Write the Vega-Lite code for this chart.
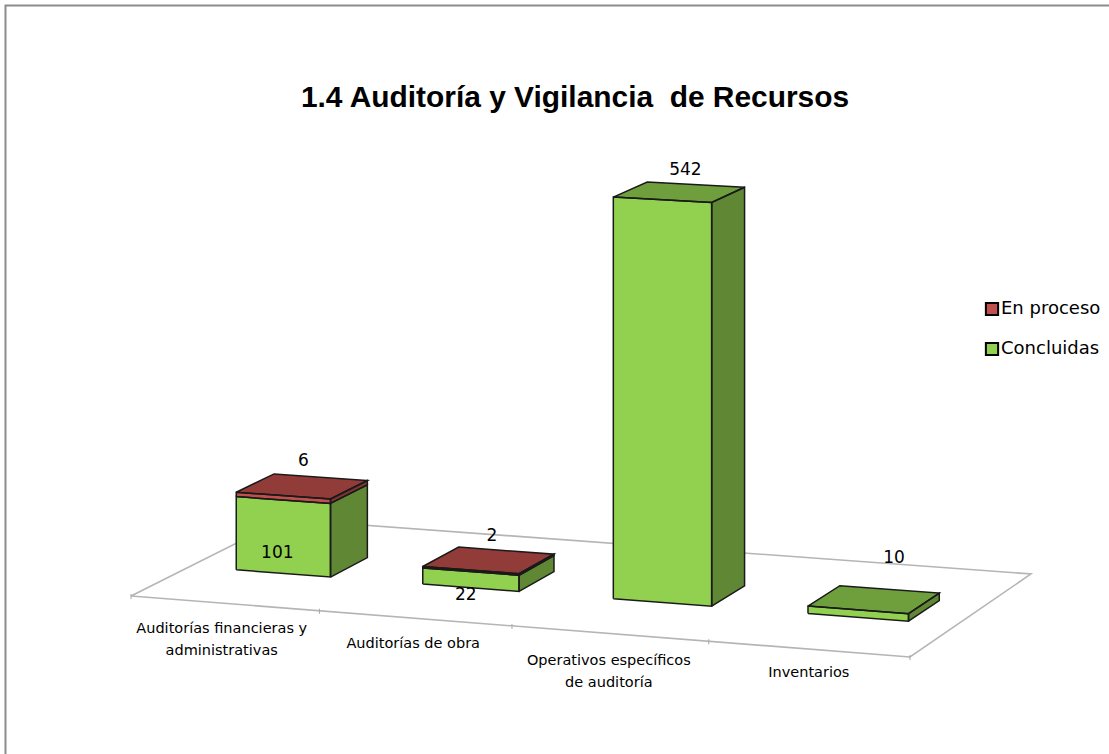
{
"$schema":"https://vega.github.io/schema/vega-lite/v6.json",
"width":1109,"height":754,"padding":0,"autosize":{"type":"none"},
"background":"white",
"config":{"view":{"stroke":null},"font":"DejaVu Sans"},
"title":{"text":"1.4 Auditoría y Vigilancia \u00a0de Recursos","anchor":"middle","frame":"group","dx":20.5,"offset":-137,"baseline":"alphabetic","fontSize":29.9,"fontWeight":"bold","color":"#000000","font":"Liberation Sans"},
"datasets":{
"bars":[
{"category":"Auditorías financieras y administrativas","series":"Concluidas","value":101},
{"category":"Auditorías financieras y administrativas","series":"En proceso","value":6},
{"category":"Auditorías de obra","series":"Concluidas","value":22},
{"category":"Auditorías de obra","series":"En proceso","value":2},
{"category":"Operativos específicos de auditoría","series":"Concluidas","value":542},
{"category":"Inventarios","series":"Concluidas","value":10}
],
"floor":[{"n":0,"s":0,"t":0},{"n":1,"s":1,"t":0},{"n":2,"s":1,"t":1},{"n":3,"s":0,"t":1},{"n":4,"s":0,"t":0}],
"ticks":[{"s":0},{"s":0.25},{"s":0.5},{"s":0.75},{"s":1}],
"frame":[{"n":0,"px":5.5,"py":754},{"n":1,"px":5.5,"py":5.5},{"n":2,"px":1109,"py":5.5}]
},
"layer":[
{"data":{"name":"frame"},"mark":{"type":"line","stroke":"#8c8c8c","strokeWidth":2},
 "encoding":{"x":{"field":"px","type":"quantitative","scale":{"domain":[0,1109],"nice":false,"zero":false},"axis":null},"y":{"field":"py","type":"quantitative","scale":{"domain":[0,754],"reverse":true,"nice":false,"zero":false},"axis":null},"order":{"field":"n"}}},
{"data":{"name":"floor"},
 "transform":[
 {"calculate":"1-0.0427*datum.s+0.05*datum.t","as":"w"},
 {"calculate":"(740.1*datum.s+167.4*datum.t+131)/datum.w","as":"px"},
 {"calculate":"(32.95*datum.s-50.76*datum.t+596)/datum.w","as":"py"}],
 "mark":{"type":"line","stroke":"#b5b5b5","strokeWidth":1.6},
 "encoding":{"x":{"field":"px","type":"quantitative","axis":null},"y":{"field":"py","type":"quantitative","axis":null},"order":{"field":"n"}}},
{"data":{"name":"ticks"},
 "transform":[
 {"calculate":"1-0.0427*datum.s","as":"w"},
 {"calculate":"(740.1*datum.s+131)/datum.w","as":"px"},
 {"calculate":"(32.95*datum.s+596)/datum.w-2","as":"py"},
 {"calculate":"datum.py+5","as":"py2"}],
 "mark":{"type":"rule","stroke":"#a6a6a6","strokeWidth":1},
 "encoding":{"x":{"field":"px","type":"quantitative","axis":null},"y":{"field":"py","type":"quantitative","axis":null},"y2":{"field":"py2"}}},
{"data":{"name":"bars"},
 "transform":[
 {"stack":"value","groupby":["category"],"sort":[{"field":"series","order":"ascending"}],"as":["v0","v1"]},
 {"joinaggregate":[{"op":"max","field":"v1","as":"vmax"}],"groupby":["category"]},
 {"calculate":"indexof(['Auditorías financieras y administrativas','Auditorías de obra','Operativos específicos de auditoría','Inventarios'],datum.category)","as":"i"},
 {"calculate":"['front','side','top']","as":"face"},{"flatten":["face"]},
 {"filter":"datum.face!='top'||datum.v1==datum.vmax"},
 {"calculate":"[0,1,2,3,4]","as":"corner"},{"flatten":["corner"]},
 {"calculate":"datum.i/4+1/16+({front:[0,1,1,0,0],side:[1,1,1,1,1],top:[0,1,1,0,0]})[datum.face][datum.corner]*0.127","as":"s"},
 {"calculate":"0.375+({front:[0,0,0,0,0],side:[0,1,1,0,0],top:[0,0,1,1,0]})[datum.face][datum.corner]/4","as":"t"},
 {"calculate":"({front:[0,0,1,1,0],side:[0,0,1,1,0],top:[1,1,1,1,1]})[datum.face][datum.corner]?datum.v1:datum.v0","as":"z"},
 {"calculate":"1-0.0427*datum.s+0.05*datum.t","as":"w"},
 {"calculate":"(740.1*datum.s+167.4*datum.t+131)/datum.w","as":"px"},
 {"calculate":"(32.95*datum.s-50.76*datum.t+596-0.737*datum.z)/datum.w","as":"py"},
 {"calculate":"({front:0,top:0.24,side:0.35})[datum.face]","as":"shade"},
 {"calculate":"datum.category+'|'+datum.series+'|'+datum.face","as":"poly"}],
 "layer":[
 {"mark":{"type":"line","strokeOpacity":0},
  "encoding":{"x":{"field":"px","type":"quantitative","axis":null},"y":{"field":"py","type":"quantitative","axis":null},"detail":{"field":"poly"},"order":{"field":"corner"},
  "fill":{"field":"series","type":"nominal","scale":{"domain":["En proceso","Concluidas"],"range":["#C0504D","#92D050"]},
   "legend":{"title":null,"orient":"none","legendX":983,"legendY":300,"symbolType":"square","symbolSize":150,"symbolStrokeColor":"#000000","symbolStrokeWidth":2,"labelFontSize":18,"labelColor":"#000000","labelFont":"DejaVu Sans","rowPadding":18,"labelOffset":0,"symbolOpacity":1}}}},
 {"mark":{"type":"line","fill":"#000000","stroke":"#1a1a1a","strokeWidth":1.5},
  "encoding":{"x":{"field":"px","type":"quantitative","axis":null},"y":{"field":"py","type":"quantitative","axis":null},"detail":{"field":"poly"},"order":{"field":"corner"},
  "fillOpacity":{"field":"shade","type":"quantitative","scale":null,"legend":null}}}
 ]},
{"data":{"name":"bars"},
 "transform":[
 {"stack":"value","groupby":["category"],"sort":[{"field":"series","order":"ascending"}],"as":["v0","v1"]},
 {"calculate":"indexof(['Auditorías financieras y administrativas','Auditorías de obra','Operativos específicos de auditoría','Inventarios'],datum.category)","as":"i"},
 {"calculate":"datum.i/4+0.125","as":"s"},
 {"calculate":"1-0.0427*datum.s+0.025","as":"w"},
 {"calculate":"datum.i*2+(datum.series=='En proceso'?1:0)","as":"k"},
 {"calculate":"(740.1*datum.s+83.7+131)/datum.w+[-24,2,-22,4,7,0,21,0][datum.k]","as":"px"},
 {"calculate":"(32.95*datum.s-25.38+596-0.737*datum.v1)/datum.w+[62,-25,33,-24,-22,0,-41,0][datum.k]","as":"py"}],
 "mark":{"type":"text","fontSize":17,"align":"center","baseline":"middle","color":"#000000","font":"DejaVu Sans"},
 "encoding":{"x":{"field":"px","type":"quantitative","axis":null},"y":{"field":"py","type":"quantitative","axis":null},"text":{"field":"value","type":"quantitative"}}},
{"data":{"name":"bars"},
 "transform":[
 {"filter":"datum.series=='Concluidas'"},
 {"calculate":"indexof(['Auditorías financieras y administrativas','Auditorías de obra','Operativos específicos de auditoría','Inventarios'],datum.category)","as":"i"},
 {"calculate":"datum.i/4+0.125","as":"s"},
 {"calculate":"1-0.0427*datum.s","as":"w"},
 {"calculate":"(740.1*datum.s+131)/datum.w+[-3,-2,-1,0][datum.i]","as":"px"},
 {"calculate":"(32.95*datum.s+596)/datum.w+[26,26,27,24][datum.i]","as":"py"},
 {"calculate":"replace(replace(datum.category,' y ',' y|'),'específicos ','específicos|')","as":"lbl"}],
 "mark":{"type":"text","fontSize":14.5,"align":"center","baseline":"middle","lineBreak":"|","lineHeight":22,"color":"#000000","font":"DejaVu Sans"},
 "encoding":{"x":{"field":"px","type":"quantitative","axis":null},"y":{"field":"py","type":"quantitative","axis":null},"text":{"field":"lbl","type":"nominal"}}}
]
}
